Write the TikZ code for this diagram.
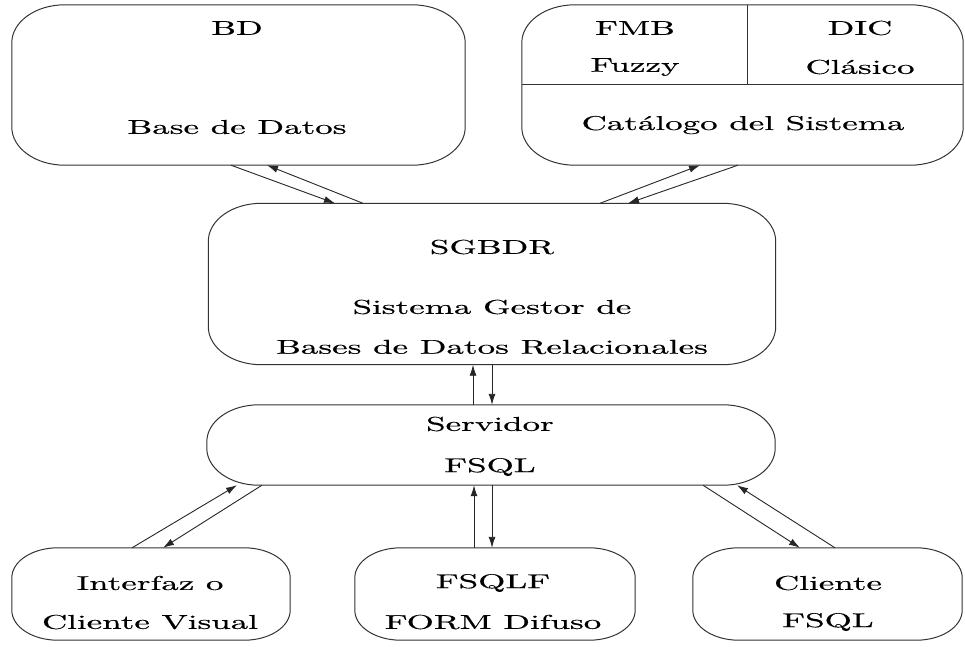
\documentclass[tikz,border=0pt]{standalone}
\usepackage{fontspec}
\usetikzlibrary{arrows.meta}

% slightly heavier Latin Modern for the labels
\newfontfamily\lblfont{lmroman10-regular.otf}[FakeBold=0.35]

% wide lettering used for every label
\newcommand\lbl[1]{\scalebox{3.5}[2]{#1}}

% outline of a box with elliptical corners: node, x radius, y radius
\newcommand\ebox[3]{%
  \draw[boxline] ([xshift=#2]#1.north west) -- ([xshift=-#2]#1.north east)
    arc[start angle=90,end angle=0,x radius=#2,y radius=#3]
    -- ([yshift=#3]#1.south east)
    arc[start angle=0,end angle=-90,x radius=#2,y radius=#3]
    -- ([xshift=#2]#1.south west)
    arc[start angle=-90,end angle=-180,x radius=#2,y radius=#3]
    -- ([yshift=-#3]#1.north west)
    arc[start angle=180,end angle=90,x radius=#2,y radius=#3]
    -- cycle;}

\tikzset{
  boxline/.style={line width=1pt, draw=black!80},
  frame/.style={draw=none, inner sep=0pt, rectangle},
  txt/.style={inner sep=0pt, font=\lblfont\fontsize{10}{12}\selectfont},
  arr/.style={line width=0.9pt, draw=black!85, -{Latex[length=11pt,width=7pt]}}
}

\begin{document}
\begin{tikzpicture}[x=1pt, y=-1pt]
\useasboundingbox (0,0) rectangle (965,646);

% ---- boxes ----
\node[frame, minimum width=453pt, minimum height=160pt] (bd)  at (238.5,85) {};
\node[frame, minimum width=441pt, minimum height=160pt] (cat) at (742.5,85) {};
\node[frame, minimum width=567pt, minimum height=161pt] (sg)  at (492,284) {};
\node[frame, minimum width=568pt, minimum height=80pt]  (srv) at (491,445) {};
\node[frame, minimum width=278pt, minimum height=92pt]  (int) at (151,594) {};
\node[frame, minimum width=280pt, minimum height=92pt]  (fq)  at (495,594) {};
\node[frame, minimum width=269pt, minimum height=92pt]  (cl)  at (827.5,594) {};

\ebox{bd}{53pt}{38pt}
\ebox{cat}{53pt}{38pt}
\ebox{sg}{53pt}{38pt}
\ebox{srv}{52pt}{37pt}
\ebox{int}{46pt}{30pt}
\ebox{fq}{46pt}{30pt}
\ebox{cl}{46pt}{30pt}

% catalogue partitions
\draw[boxline] (747,0 |- cat.north) -- (747,84);
\draw[boxline] (cat.west |- 0,84) -- (cat.east |- 0,84);

% ---- labels ----
\node[txt] (t-bd)   at (237,28)  {\lbl{BD}};
\node[txt] (t-bd2)  at (237,127) {\lbl{Base de Datos}};
\node[txt] (t-fmb)  at (635,28)  {\lbl{FMB}};
\node[txt] (t-fuz)  at (635,67)  {\lbl{Fuzzy}};
\node[txt] (t-dic)  at (860,28)  {\lbl{DIC}};
\node[txt] (t-cla)  at (860,67)  {\lbl{Clásico}};
\node[txt] (t-cat)  at (743,125) {\lbl{Catálogo del Sistema}};
\node[txt] (t-sg)   at (492,247) {\lbl{SGBDR}};
\node[txt] (t-sg2)  at (492,307) {\lbl{Sistema Gestor de}};
\node[txt] (t-sg3)  at (492,347) {\lbl{Bases de Datos Relacionales}};
\node[txt] (t-srv)  at (490,424) {\lbl{Servidor}};
\node[txt] (t-srv2) at (490,467) {\lbl{FSQL}};
\node[txt] (t-int)  at (150,583) {\lbl{Interfaz o}};
\node[txt] (t-int2) at (150,622) {\lbl{Cliente Visual}};
\node[txt] (t-fq)   at (493,583) {\lbl{FSQLF}};
\node[txt] (t-fq2)  at (493,622) {\lbl{FORM Difuso}};
\node[txt] (t-cl)   at (828,583) {\lbl{Cliente}};
\node[txt] (t-cl2)  at (828,622) {\lbl{FSQL}};

% ---- connectors ----
\draw[arr] (231,0 |- bd.south) -- (335,0 |- sg.north);
\draw[arr] (363,0 |- sg.north) -- (267,0 |- bd.south);
\draw[arr] (600,0 |- sg.north) -- (700,0 |- cat.south);
\draw[arr] (738,0 |- cat.south) -- (628,0 |- sg.north);

\draw[arr] (473,0 |- srv.north) -- (473,0 |- sg.south);
\draw[arr] (492,0 |- sg.south) -- (492,0 |- srv.north);

\draw[arr] (474,0 |- fq.north) -- (474,0 |- srv.south);
\draw[arr] (492,0 |- srv.south) -- (492,0 |- fq.north);

\draw[arr] (132,0 |- int.north) -- (237,0 |- srv.south);
\draw[arr] (262,0 |- srv.south) -- (163,0 |- int.north);

\draw[arr] (703,0 |- srv.south) -- (800,0 |- cl.north);
\draw[arr] (835,0 |- cl.north) -- (737,0 |- srv.south);
\end{tikzpicture}
\end{document}
